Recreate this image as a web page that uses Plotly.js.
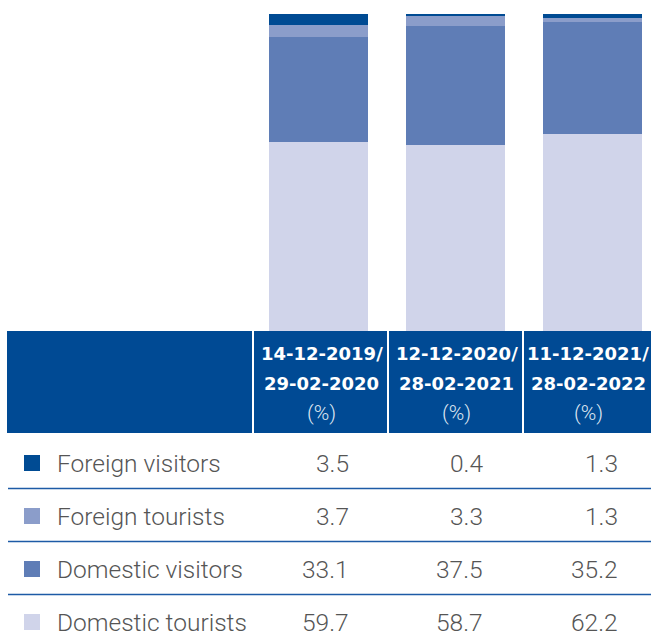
<!DOCTYPE html>
<html>
<head>
<meta charset="utf-8">
<script src="https://cdn.plot.ly/plotly-3.0.1.min.js"></script>
<style>
  html, body { margin: 0; padding: 0; background: #fff; }
  #chart { width: 651px; height: 639px; }
</style>
</head>
<body>
<div id="chart"></div>
<script>
// periods (table header)
const periodStart = ['14-12-2019/', '12-12-2020/', '11-12-2021/'];
const periodEnd = ['29-02-2020', '28-02-2021', '28-02-2022'];
const periods = periodStart.map((s, i) => s + periodEnd[i]);

// shares in %, table order (top row first)
const seriesNames = ['Foreign visitors', 'Foreign tourists', 'Domestic visitors', 'Domestic tourists'];
const foreignVisitors = [3.5, 0.4, 1.3];
const foreignTourists = [3.7, 3.3, 1.3];
const domesticVisitors = [33.1, 37.5, 35.2];
const domesticTourists = [59.7, 58.7, 62.2];
const seriesColors = ['#004b93', '#8b9dca', '#5f7db6', '#d0d4ea'];

const allSeries = [foreignVisitors, foreignTourists, domesticVisitors, domesticTourists];

const W = 651, H = 639;
const px = x => x / W;
const py = y => 1 - y / H;

// stacked bars, bottom segment first
const data = [];
for (let k = allSeries.length - 1; k >= 0; k--) {
    data.push({
        x: periods,
        y: allSeries[k],
        name: seriesNames[k],
        type: 'bar',
        width: 0.7226,
        marker: {color: seriesColors[k], line: {width: 0}},
        hoverinfo: 'skip'
    });
}

const shapes = [];
const annotations = [];

// header band
shapes.push({type: 'rect', xref: 'paper', yref: 'paper',
    x0: px(7), x1: px(651), y0: py(433), y1: py(331),
    fillcolor: '#004a94', line: {width: 0}, layer: 'above'});
// column dividers in header
const colEdges = [253, 388, 523, 651];
[253, 388, 523].forEach(x => {
    shapes.push({type: 'line', xref: 'paper', yref: 'paper',
        x0: px(x), x1: px(x), y0: py(435), y1: py(331),
        line: {color: '#ffffff', width: 2}, layer: 'above'});
});

// header text
periods.forEach((p, i) => {
    const cx = px((colEdges[i] + colEdges[i + 1]) / 2 + 1);
    annotations.push({xref: 'paper', yref: 'paper', x: cx, y: py(353),
        text: periodStart[i], showarrow: false, xanchor: 'center', yanchor: 'middle',
        font: {family: 'DejaVu Sans', size: 18, color: '#ffffff', weight: 'bold'}});
    annotations.push({xref: 'paper', yref: 'paper', x: cx, y: py(383),
        text: periodEnd[i], showarrow: false, xanchor: 'center', yanchor: 'middle',
        font: {family: 'DejaVu Sans', size: 18, color: '#ffffff', weight: 'bold'}});
    annotations.push({xref: 'paper', yref: 'paper', x: cx, y: py(413),
        text: '(%)', showarrow: false, xanchor: 'center', yanchor: 'middle',
        font: {family: 'Roboto', size: 21, color: '#dfe6f2', weight: 300}});
});

// table rows
const rowY = [463, 516, 569, 622];
const numRight = [349, 483, 618];
seriesNames.forEach((name, r) => {
    const y = rowY[r];
    shapes.push({type: 'rect', xref: 'paper', yref: 'paper',
        x0: px(24), x1: px(40), y0: py(y + 8), y1: py(y - 8),
        fillcolor: seriesColors[r], line: {width: 0}});
    annotations.push({xref: 'paper', yref: 'paper', x: px(55), y: py(y),
        text: name, showarrow: false, xanchor: 'left', yanchor: 'middle',
        font: {family: 'Roboto', size: 24.5, color: '#555555', weight: 300}});
    allSeries[r].forEach((v, i) => {
        annotations.push({xref: 'paper', yref: 'paper', x: px(numRight[i] + 2), y: py(y),
            text: v.toFixed(1), showarrow: false, xanchor: 'right', yanchor: 'middle',
            font: {family: 'Roboto', size: 24.5, color: '#555555', weight: 300}});
    });
    if (r < seriesNames.length - 1) {
        shapes.push({type: 'line', xref: 'paper', yref: 'paper',
            x0: px(8), x1: px(651), y0: py(y + 25.5), y1: py(y + 25.5),
            line: {color: '#1d5ba6', width: 1.5}});
    }
});

const layout = {
    width: W,
    height: H,
    barmode: 'stack',
    bargap: 0,
    showlegend: false,
    margin: {l: 0, r: 0, t: 0, b: 0},
    paper_bgcolor: '#ffffff',
    plot_bgcolor: '#ffffff',
    xaxis: {
        type: 'category',
        range: [-2.325, 2.427],
        domain: [0, 1],
        showgrid: false, zeroline: false, showticklabels: false, showline: false
    },
    yaxis: {
        range: [0, 100],
        domain: [py(331), py(14)],
        showgrid: false, zeroline: false, showticklabels: false, showline: false
    },
    shapes: shapes,
    annotations: annotations
};

Plotly.newPlot('chart', data, layout, {displayModeBar: false, staticPlot: true});
</script>
</body>
</html>
